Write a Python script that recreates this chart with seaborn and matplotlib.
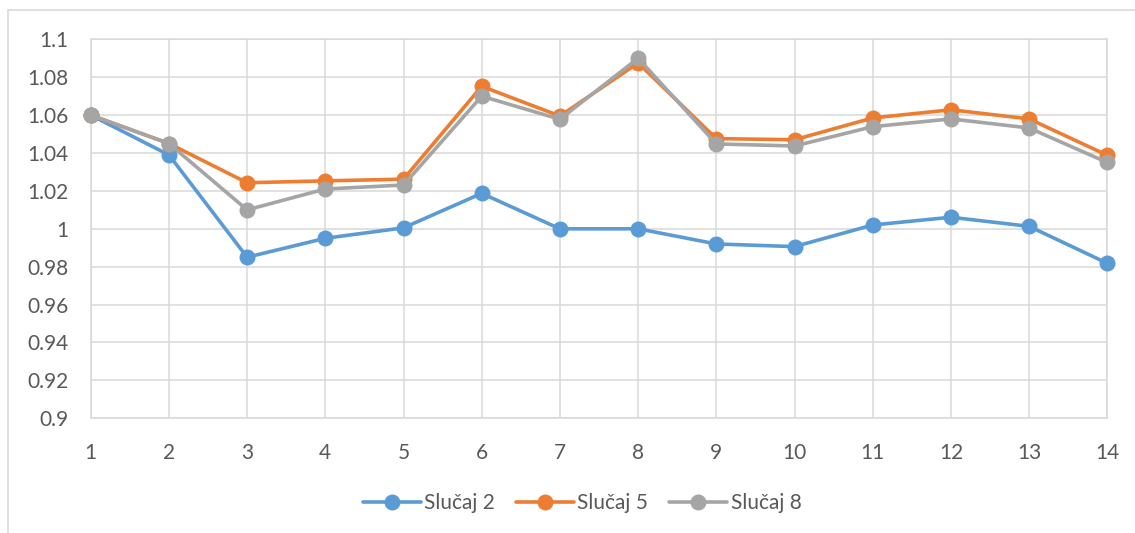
import pandas as pd
import matplotlib.pyplot as plt
import seaborn as sns
from matplotlib.patches import Rectangle

sns.set_theme(style="whitegrid")
plt.rcParams['font.family'] = ['Lato', 'DejaVu Sans']

# -----------------------------------------------
# DATA
# -----------------------------------------------
steps = list(range(1, 15))
series_names = ['Slučaj 2', 'Slučaj 5', 'Slučaj 8']

slucaj_2 = [1.060, 1.039, 0.985, 0.995, 1.0005, 1.0187, 1.000, 1.000,
            0.992, 0.9906, 1.002, 1.0061, 1.0013, 0.9818]
slucaj_5 = [1.060, 1.045, 1.0243, 1.0253, 1.0262, 1.0752, 1.0595, 1.0875,
            1.0476, 1.0470, 1.0585, 1.0628, 1.0580, 1.0388]
slucaj_8 = [1.060, 1.045, 1.010, 1.0210, 1.0231, 1.0700, 1.0578, 1.0900,
            1.0448, 1.0437, 1.0539, 1.0580, 1.0532, 1.0350]

colors = ['#5B9BD5', '#ED7D31', '#A5A5A5']

df = pd.DataFrame({
    'Step': steps * 3,
    'Value': slucaj_2 + slucaj_5 + slucaj_8,
    'Series': [n for n in series_names for _ in steps],
})

# -----------------------------------------------
# PLOT
# -----------------------------------------------
fig = plt.figure(figsize=(11.35, 5.33), dpi=100)
ax = fig.add_axes([90.7 / 1135, 1 - 418.3 / 533, (1107.3 - 90.7) / 1135, (418.3 - 39.3) / 533])

sns.lineplot(data=df, x='Step', y='Value', hue='Series', palette=colors,
             marker='o', markersize=11.5, markeredgewidth=0, linewidth=2.6,
             ax=ax, legend=True, clip_on=False, zorder=3)

ax.set_xlim(1, 14)
ax.set_ylim(0.9, 1.1)
ax.set_xticks(steps)
ax.set_yticks([0.9 + 0.02 * i for i in range(11)])
ax.set_yticklabels(['0.9', '0.92', '0.94', '0.96', '0.98', '1',
                    '1.02', '1.04', '1.06', '1.08', '1.1'])
ax.set_xlabel('')
ax.set_ylabel('')

ax.grid(True, color='#d9d9d9', linewidth=1.1)
for s in ax.spines.values():
    s.set_color('#d9d9d9')
    s.set_linewidth(1.1)
ax.tick_params(axis='both', labelsize=15, colors='#595959', length=0)
ax.tick_params(axis='x', pad=18)
ax.tick_params(axis='y', pad=16)

handles, labels = ax.get_legend_handles_labels()
ax.get_legend().remove()
fig.legend(handles, labels, loc='center', bbox_to_anchor=(582 / 1135, 1 - 503 / 533),
           ncol=3, frameon=False, fontsize=15, labelcolor='#595959',
           handlelength=2.8, handletextpad=0.15, columnspacing=1.0)

# chart frame
fig.patches.append(Rectangle((8 / 1135, -0.1), 1.2, 1 - 10 / 533 + 0.1,
                             transform=fig.transFigure, fill=False,
                             edgecolor='#d9d9d9', linewidth=1.2))

fig.savefig('out.png', dpi=100)
